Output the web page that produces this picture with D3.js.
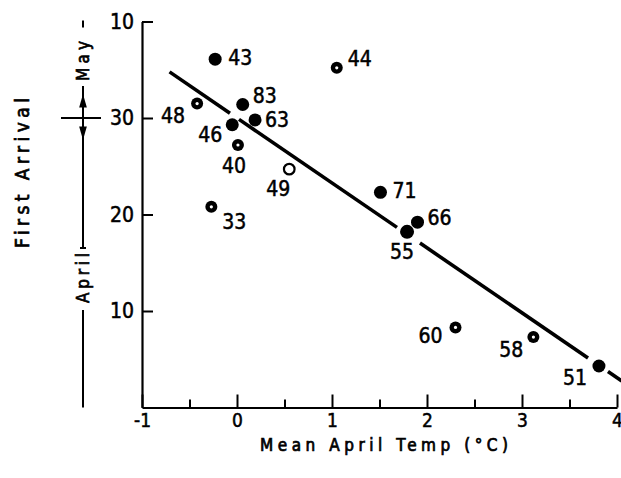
<!DOCTYPE html>
<html>
<head>
<meta charset="utf-8">
<script src="https://cdn.jsdelivr.net/npm/d3@7"></script>
<style>
  html, body { margin: 0; padding: 0; background: #fff; }
  svg { display: block; }
  text { font-family: "DejaVu Sans Condensed", "DejaVu Sans", sans-serif; font-stretch: condensed; fill: #000; }
</style>
</head>
<body>
<svg id="chart" width="621" height="478"></svg>
<script>
// Year of record (last two digits)
const years = ["43", "48", "83", "63", "46", "40", "49", "33", "44", "71", "66", "55", "60", "58", "51"];
// Mean April temperature (°C)
const aprilTemp = [-0.23, -0.42, 0.06, 0.19, -0.05, 0.01, 0.55, -0.27, 1.05, 1.51, 1.90, 1.79, 2.30, 3.12, 3.81];
// First arrival, counted in days from 1 April (31 = 1 May)
const arrivalDay = [36.1, 31.5, 31.4, 29.8, 29.3, 27.2, 24.7, 20.8, 35.2, 22.3, 19.2, 18.2, 8.3, 7.3, 4.3];
// Kind of record: F = filled, R = ring, O = open
const recordType = ["F", "R", "F", "F", "F", "R", "O", "R", "R", "F", "F", "F", "R", "R", "F"];

// Axis ticks
const xTicks = [-1, 0, 1, 2, 3, 4];
const xMinorTicks = [-0.5, 0.5, 1.5, 2.5, 3.5];
const yTicks = [10, 20, 30, 40];

// Fitted trend: day = intercept + slope * temp
const trendIntercept = 30.0;
const trendSlope = -6.73;
const trendRange = [-0.71, 4.05];
// Short interruptions of the trend line where it crosses the points
const trendBreaks = [[-0.074, 0.021], [1.684, 1.926], [3.695, 3.905]];

// Label placement for each year: [dx, dy, anchor]
const labelPlacement = {
  "43": [13, -2, "start"], "48": [-12, 12, "end"], "83": [10, -9, "start"],
  "63": [10, 0, "start"], "46": [-10, 10, "end"], "40": [-4, 20, "middle"],
  "49": [1, 19, "end"], "33": [11, 15, "start"], "44": [11, -9, "start"],
  "71": [12, -2, "start"], "66": [10, -5, "start"], "55": [-5, 20, "middle"],
  "60": [-13, 8, "end"], "58": [-10, 12, "end"], "51": [-12, 11, "end"]
};

const svg = d3.select("#chart");
svg.append("rect").attr("width", 621).attr("height", 478).attr("fill", "#fff");

const x = d3.scaleLinear().domain([-1, 4]).range([142, 617]);
const y = d3.scaleLinear().domain([0, 40]).range([407.5, 21.5]);

// X axis: major ticks with labels, minor half-degree ticks, all pointing inward
const xAxisG = svg.append("g").attr("transform", `translate(0,${y(0)})`);
xAxisG.call(d3.axisBottom(x).tickValues(xTicks).tickSize(-13).tickSizeOuter(0).tickPadding(6)
  .tickFormat(d => d < 0 ? "-" + Math.abs(d) : String(d)));
xAxisG.append("g").call(d3.axisBottom(x).tickValues(xMinorTicks).tickSize(-8).tickFormat(""))
  .select(".domain").remove();
xAxisG.selectAll("path.domain").attr("stroke-width", 2.2);
xAxisG.selectAll(".tick line").attr("stroke-width", 2);
xAxisG.selectAll(".tick text").attr("font-size", 19);

// Y axis: days, numbered within each month
const yAxisG = svg.append("g").attr("transform", `translate(${x(-1)},0)`);
yAxisG.call(d3.axisLeft(y).tickValues(yTicks).tickSize(-11).tickSizeOuter(0).tickPadding(8)
  .tickFormat(d => d > 30 ? String(d - 30) : String(d)));
yAxisG.selectAll("path.domain").attr("stroke-width", 2.2);
yAxisG.selectAll(".tick line").attr("stroke-width", 2);
yAxisG.selectAll(".tick text").attr("font-size", 21);
svg.selectAll(".tick text")
  .attr("font-family", "'DejaVu Sans Condensed', 'DejaVu Sans', sans-serif")
  .attr("stroke", "#000").attr("stroke-width", 0.5);

// Trend line, drawn in pieces between the breaks
const pieces = [];
let start = trendRange[0];
trendBreaks.forEach(([b0, b1]) => { pieces.push([start, b0]); start = b1; });
pieces.push([start, trendRange[1]]);
const trendLine = d3.line().x(d => x(d)).y(d => y(trendIntercept + trendSlope * d));
svg.append("g").selectAll("path").data(pieces).join("path")
  .attr("d", d => trendLine(d))
  .attr("fill", "none").attr("stroke", "#000").attr("stroke-width", 3.6);

// Points
const points = years.map((yr, i) => ({ yr, t: aprilTemp[i], d: arrivalDay[i], kind: recordType[i] }));
const pg = svg.append("g");
points.forEach(p => {
  const cx = x(p.t), cy = y(p.d);
  if (p.kind === "F") {
    pg.append("circle").attr("cx", cx).attr("cy", cy).attr("r", p.yr === "55" ? 7 : 6.5).attr("fill", "#000");
  } else if (p.kind === "R") {
    pg.append("circle").attr("cx", cx).attr("cy", cy).attr("r", 6).attr("fill", "#000");
    pg.append("circle").attr("cx", cx).attr("cy", cy).attr("r", 1.6).attr("fill", "#fff");
  } else {
    pg.append("circle").attr("cx", cx).attr("cy", cy).attr("r", 5.3)
      .attr("fill", "#fff").attr("stroke", "#000").attr("stroke-width", 2.2);
  }
  const [dx, dy, anchor] = labelPlacement[p.yr];
  pg.append("text").attr("x", cx + dx).attr("y", cy + dy).attr("dy", "0.36em")
    .attr("text-anchor", anchor).attr("font-size", 21)
    .attr("stroke", "#000").attr("stroke-width", 0.5).text(p.yr);
});

// Month bracket beside the day axis
const bx = 83;
const bg = svg.append("g").attr("stroke", "#000").attr("stroke-width", 2);
const bracketSegs = [[y(40) - 1, y(40) + 6], [86, 248], [310, y(0)]];
bracketSegs.forEach(([a, b]) => bg.append("line").attr("x1", bx).attr("x2", bx).attr("y1", a).attr("y2", b));
bg.append("line").attr("x1", 61).attr("x2", 101).attr("y1", y(30)).attr("y2", y(30));
bg.append("line").attr("x1", bx - 3).attr("x2", bx + 3).attr("y1", 248).attr("y2", 248);
const tri = d3.symbol().type(d3.symbolTriangle).size(40);
svg.append("path").attr("d", tri()).attr("fill", "#000")
  .attr("transform", `translate(${bx},${y(30) - 15}) scale(0.8,1.6)`);
svg.append("path").attr("d", tri()).attr("fill", "#000")
  .attr("transform", `translate(${bx},${y(30) + 13}) rotate(180) scale(0.8,1.6)`);

const labelInk = sel => sel.attr("stroke", "#000").attr("stroke-width", 0.7);
svg.append("text").attr("transform", `translate(${bx},61) rotate(-90)`)
  .attr("text-anchor", "middle").attr("dy", "0.36em").attr("font-size", 17)
  .attr("textLength", 40).attr("lengthAdjust", "spacing").call(labelInk).text("May");
svg.append("text").attr("transform", `translate(${bx},278) rotate(-90)`)
  .attr("text-anchor", "middle").attr("dy", "0.36em").attr("font-size", 17)
  .attr("textLength", 50).attr("lengthAdjust", "spacing").call(labelInk).text("April");

// Axis titles
svg.append("text").attr("transform", "translate(22,173) rotate(-90)")
  .attr("text-anchor", "middle").attr("dy", "0.36em").attr("font-size", 19)
  .attr("textLength", 150).attr("lengthAdjust", "spacing").call(labelInk).text("First Arrival");
svg.append("text").attr("x", 384).attr("y", 445).attr("dy", "0.36em")
  .attr("text-anchor", "middle").attr("font-size", 17)
  .attr("textLength", 248).attr("lengthAdjust", "spacing").call(labelInk).text("Mean April Temp (°C)");
</script>
</body>
</html>
